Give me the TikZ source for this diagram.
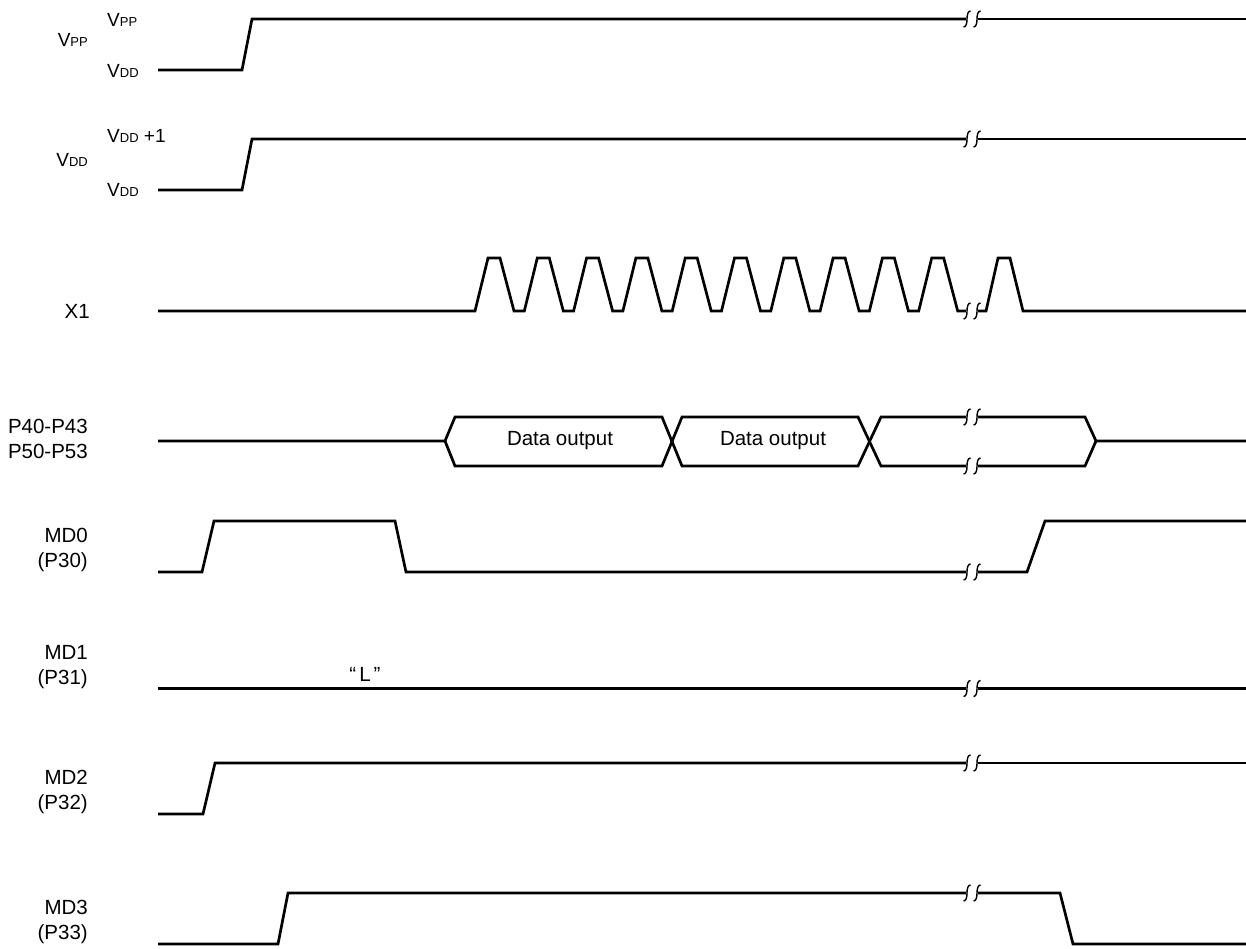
\documentclass[tikz,border=0pt]{standalone}
\usepackage{fontspec}
\setmainfont{Liberation Sans}
\newcommand\smallsub[1]{{\fontsize{13}{13}\selectfont #1}}
\begin{document}
\begin{tikzpicture}[x=1pt,y=-1pt,
  sig/.style={line width=2.7pt},
  lbl/.style={font=\fontsize{20.5}{25}\selectfont, inner sep=0pt, align=right},
  lvl/.style={font=\fontsize{19}{22}\selectfont, inner sep=0pt},
  brk/.pic={\draw[line width=1.4pt] (-3.5,8) .. controls (-1,8) and (0,4.5) .. (0,0) .. controls (0,-4.5) and (1,-8) .. (3.5,-8);}]
\useasboundingbox (0,0) rectangle (1246,948);

% ---- labels ----
\node[lvl, anchor=east] (lvpp) at (88,40) {V\smallsub{PP}};
\node[lvl, anchor=west] (lvpph) at (107,20) {V\smallsub{PP}};
\node[lvl, anchor=west] (lvppl) at (107,71) {V\smallsub{DD}};
\node[lvl, anchor=west] (lvddh) at (107,136) {V\smallsub{DD} +1};
\node[lvl, anchor=east] (lvdd) at (88,159.5) {V\smallsub{DD}};
\node[lvl, anchor=west] (lvddl) at (107,190) {V\smallsub{DD}};
\node[lbl, anchor=east] (lx1) at (90,311.5) {X1};
\node[lbl, anchor=east] (lp4) at (88,439) {P40-P43\\P50-P53};
\node[lbl, anchor=east] (lmd0) at (88,550) {MD0\\(P30)};
\node[lbl, anchor=east] (lmd1) at (88,667) {MD1\\(P31)};
\node[lbl, anchor=east] (lmd2) at (88,792) {MD2\\(P32)};
\node[lbl, anchor=east] (lmd3) at (88,922) {MD3\\(P33)};
\node[lbl] (tl) at (365,674) {“\hspace{3pt}L\hspace{3pt}”};
\node[lbl] (td1) at (560,441) {Data output};
\node[lbl] (td2) at (773,441) {Data output};

% ---- VPP ----
\draw[sig] (158,70) -- (242,70) -- (252,19) -- (966,19);
\draw[sig] (978,19) -- (1246,19);
\pic at (967,19) {brk}; \pic at (977,19) {brk};

% ---- VDD ----
\draw[sig] (158,190) -- (242,190) -- (252,139) -- (966,139);
\draw[sig] (978,139) -- (1246,139);
\pic at (967,139) {brk}; \pic at (977,139) {brk};

% ---- X1 ----
\draw[sig] (158,311) foreach \k in {0,...,9} {
  -- ({475+49.3*\k},311) -- ({488+49.3*\k},258) -- ({500+49.3*\k},258) -- ({514+49.3*\k},311) } -- (966,311);
\draw[sig] (978,311) -- (986,311) -- (998,258) -- (1010,258) -- (1023,311) -- (1246,311);
\pic at (967,311) {brk}; \pic at (977,311) {brk};

% ---- P40-P43 / P50-P53 ----
\draw[sig] (158,441) -- (445,441) -- (455,417) -- (662,417) -- (682,466) -- (858,466) -- (881,417) -- (966,417);
\draw[sig] (445,441) -- (455,466) -- (662,466) -- (682,417) -- (858,417) -- (881,466) -- (966,466);
\draw[sig] (978,417) -- (1085,417) -- (1096,441) -- (1246,441);
\draw[sig] (978,466) -- (1085,466) -- (1096,441);
\pic at (967,417) {brk}; \pic at (977,417) {brk};
\pic at (967,466) {brk}; \pic at (977,466) {brk};

% ---- MD0 ----
\draw[sig] (158,572) -- (202,572) -- (214,521) -- (395,521) -- (406,572) -- (966,572);
\draw[sig] (978,572) -- (1027,572) -- (1045,521) -- (1246,521);
\pic at (967,572) {brk}; \pic at (977,572) {brk};

% ---- MD1 ----
\draw[sig] (158,688.5) -- (966,688.5);
\draw[sig] (978,688.5) -- (1246,688.5);
\pic at (967,688.5) {brk}; \pic at (977,688.5) {brk};

% ---- MD2 ----
\draw[sig] (158,814) -- (203,814) -- (215,763) -- (966,763);
\draw[sig] (978,763) -- (1246,763);
\pic at (967,763) {brk}; \pic at (977,763) {brk};

% ---- MD3 ----
\draw[sig] (158,944) -- (278,944) -- (288,893) -- (966,893);
\draw[sig] (978,893) -- (1060,893) -- (1073,944) -- (1246,944);
\pic at (967,893) {brk}; \pic at (977,893) {brk};
\end{tikzpicture}
\end{document}
